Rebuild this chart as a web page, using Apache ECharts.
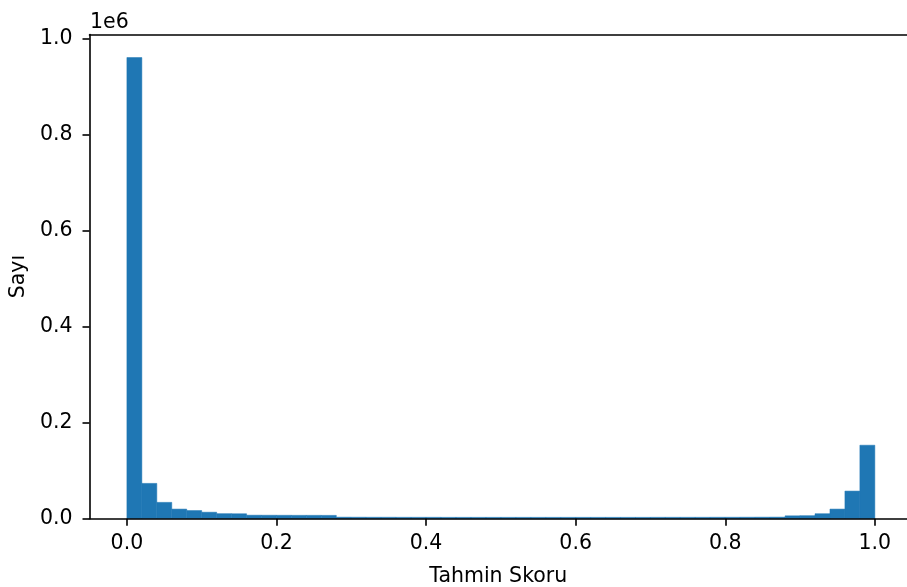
<!DOCTYPE html>
<html>
<head>
<meta charset="utf-8">
<script src="https://cdn.jsdelivr.net/npm/echarts@6/dist/echarts.min.js"></script>
<style>
html,body{margin:0;padding:0;background:#fff;}
#chart{width:907px;height:587px;}
</style>
</head>
<body>
<div id="chart"></div>
<script>
// Histogram bins (0 to 1, width 0.02)
const binCount = 50;
const binWidth = 0.02;
const counts = [
  960000, 73500, 34000, 20000, 17000, 13500, 10500, 10300, 7300, 7200,
  7100, 7000, 7000, 6900, 3200, 3100, 3000, 3000, 2900, 2900,
  2900, 2800, 2800, 2800, 2800, 2800, 2800, 2800, 2800, 2800,
  2800, 2800, 2800, 2800, 2800, 2900, 2900, 2900, 2900, 3000,
  3000, 3100, 3200, 3300, 6000, 6300, 10400, 20000, 57500, 153000
];
const xTicks = [0, 0.2, 0.4, 0.6, 0.8, 1.0];
const yTicks = [0, 200000, 400000, 600000, 800000, 1000000];
const xLabel = 'Tahmin Skoru';
const yLabel = 'Sayı';
const offsetText = '1e6';

const histData = counts.map((c, i) => [i * binWidth, (i + 1) * binWidth, c]);

const FONT = 'DejaVu Sans';
const FS = 20.5;
const LW = 1.6;
// visible x range: left spine at -0.05, canvas edge cuts the axes before +1.05
const X_MIN = -0.05, X_MAX = 1.043;

const chart = echarts.init(document.getElementById('chart'), null, {renderer: 'canvas'});
chart.setOption({
  animation: false,
  backgroundColor: '#ffffff',
  grid: {left: 89.5, top: 34.5, bottom: 68.3, right: 0, show: false,
         containLabel: false, outerBoundsMode: 'none'},
  xAxis: [{
    type: 'value', min: X_MIN, max: X_MAX, z: 5,
    name: xLabel, nameLocation: 'middle', nameGap: 47,
    nameTextStyle: {fontFamily: FONT, fontSize: FS, color: '#000', verticalAlign: 'top'},
    axisLine: {show: true, onZero: false, lineStyle: {color: '#000', width: LW}},
    axisTick: {show: true, length: 7, customValues: xTicks, lineStyle: {color: '#000', width: LW}},
    axisLabel: {show: true, margin: 14, customValues: xTicks, fontFamily: FONT, fontSize: FS, color: '#000',
      formatter: v => v.toFixed(1)},
    splitLine: {show: false}
  }, {
    type: 'value', min: X_MIN, max: X_MAX, position: 'top', z: 5,
    axisLine: {show: true, onZero: false, lineStyle: {color: '#000', width: LW}},
    axisTick: {show: false}, axisLabel: {show: false}, splitLine: {show: false}
  }],
  yAxis: {
    type: 'value', min: 0, max: 1008000, z: 5,
    name: yLabel, nameLocation: 'middle', nameGap: 60, nameRotate: 90,
    nameTextStyle: {fontFamily: FONT, fontSize: FS, color: '#000'},
    axisLine: {show: true, onZero: false, lineStyle: {color: '#000', width: LW}},
    axisTick: {show: true, length: 7, customValues: yTicks, lineStyle: {color: '#000', width: LW}},
    axisLabel: {show: true, margin: 17, customValues: yTicks, fontFamily: FONT, fontSize: FS, color: '#000',
      formatter: v => (v / 1e6).toFixed(1)},
    splitLine: {show: false}
  },
  graphic: [{
    type: 'text', left: 90, top: 12,
    style: {text: offsetText, font: FS + 'px "' + FONT + '"', fill: '#000'}
  }],
  series: [{
    type: 'custom',
    z: 2,
    xAxisIndex: 0,
    data: histData,
    renderItem: function (params, api) {
      const p0 = api.coord([api.value(0), api.value(2)]);
      const p1 = api.coord([api.value(1), 0]);
      return {
        type: 'rect',
        shape: {x: p0[0], y: p0[1], width: p1[0] - p0[0], height: p1[1] - p0[1]},
        style: {fill: '#1f77b4', stroke: '#1f77b4', lineWidth: 0.5}
      };
    },
    encode: {x: [0, 1], y: 2}
  }]
});
</script>
</body>
</html>
